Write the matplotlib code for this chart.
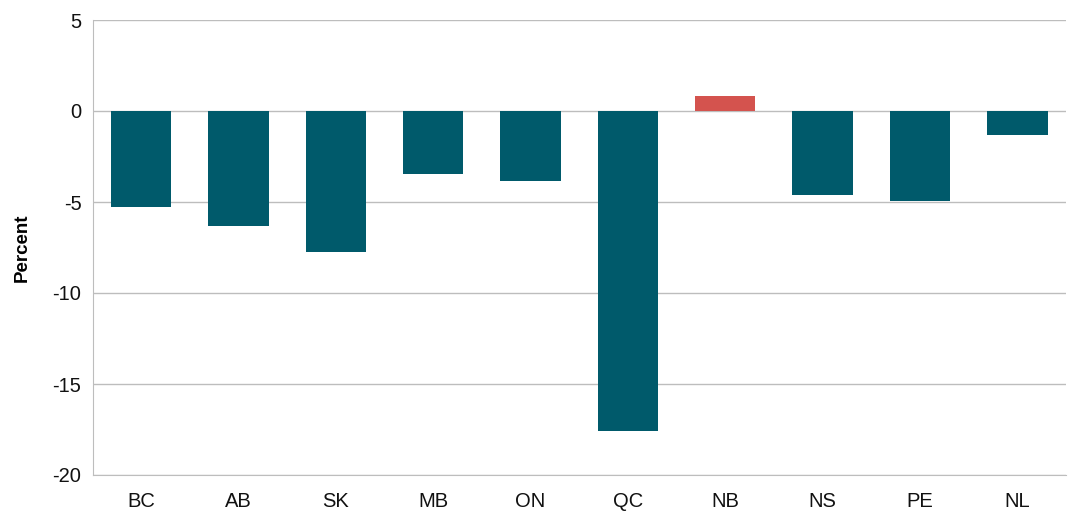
import numpy as np
import matplotlib.pyplot as plt

plt.rcParams['font.family'] = ['Liberation Sans', 'DejaVu Sans']
plt.rcParams['axes.unicode_minus'] = False

# 各省数据（百分比）
provinces = ['BC', 'AB', 'SK', 'MB', 'ON', 'QC', 'NB', 'NS', 'PE', 'NL']
values = [-5.3, -6.3, -7.75, -3.45, -3.85, -17.6, 0.8, -4.6, -4.95, -1.3]

teal = '#005A6B'
red = '#D4534E'
colors = [red if v > 0 else teal for v in values]

fig = plt.figure(figsize=(10.68, 5.14), dpi=100)
ax = fig.add_axes([92.5 / 1068, 1 - 475 / 514, (1066 - 92.5) / 1068, 455 / 514])

x = np.arange(len(provinces))
ax.bar(x, values, width=0.62, color=colors, zorder=3)

ax.set_xlim(-0.5, len(provinces) - 0.5)
ax.set_ylim(-20, 5)
ax.set_yticks([5, 0, -5, -10, -15, -20])
ax.set_xticks(x)
ax.set_xticklabels(provinces)
ax.tick_params(axis='both', length=0, labelsize=14.5, colors='#111111')
ax.tick_params(axis='x', pad=12)
ax.tick_params(axis='y', pad=8)

ax.grid(axis='y', color='#BDBDBD', linewidth=1, zorder=0)
for s in ['top', 'right']:
    ax.spines[s].set_visible(False)
ax.spines['left'].set_color('#BDBDBD')
ax.spines['bottom'].set_color('#BDBDBD')

ax.set_ylabel('Percent', fontsize=13.5, fontweight='bold', labelpad=16)

fig.savefig('out.png', dpi=100)
